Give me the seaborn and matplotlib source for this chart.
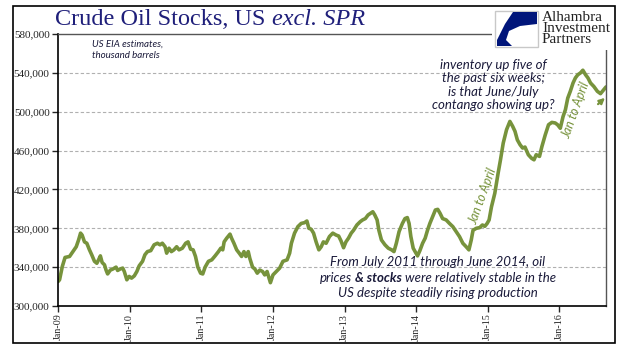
import numpy as np
import pandas as pd
import matplotlib
matplotlib.use("Agg")
import matplotlib.pyplot as plt
import matplotlib.dates as mdates
from matplotlib.patches import Rectangle, Polygon, FancyArrowPatch
import seaborn as sns

# weekly crude stocks (thousand barrels)
dates = [
    "2009-01-02", "2009-01-09", "2009-01-23", "2009-02-06", "2009-03-01", "2009-03-18",
    "2009-04-04", "2009-04-16", "2009-04-26", "2009-05-04", "2009-05-16", "2009-05-28",
    "2009-06-10", "2009-06-22", "2009-07-06", "2009-07-18", "2009-07-28", "2009-08-05",
    "2009-08-14", "2009-08-26", "2009-09-03", "2009-09-11", "2009-09-25", "2009-10-07",
    "2009-10-24", "2009-11-01", "2009-11-13", "2009-11-27", "2009-12-05", "2009-12-18",
    "2009-12-30", "2010-01-11", "2010-01-25", "2010-02-07", "2010-02-19", "2010-03-08",
    "2010-03-20", "2010-04-02", "2010-04-19", "2010-05-06", "2010-05-23", "2010-06-05",
    "2010-06-17", "2010-07-01", "2010-07-09", "2010-07-21", "2010-08-02", "2010-08-15",
    "2010-08-29", "2010-09-10", "2010-09-27", "2010-10-14", "2010-10-26", "2010-11-08",
    "2010-11-21", "2010-12-03", "2010-12-15", "2010-12-29",
    "2011-01-09", "2011-01-21", "2011-02-07", "2011-02-24", "2011-03-13", "2011-03-30",
    "2011-04-11", "2011-04-21", "2011-04-28", "2011-05-11", "2011-05-28", "2011-06-05",
    "2011-06-17", "2011-07-01", "2011-07-14", "2011-07-26", "2011-08-07", "2011-08-17",
    "2011-08-29", "2011-09-06", "2011-09-20", "2011-10-02", "2011-10-14", "2011-10-27",
    "2011-11-10", "2011-11-21", "2011-12-03", "2011-12-20", "2012-01-02", "2012-01-19",
    "2012-02-05", "2012-02-22", "2012-03-14", "2012-03-27", "2012-04-05", "2012-04-21",
    "2012-05-08", "2012-05-25", "2012-06-11", "2012-06-23", "2012-07-03", "2012-07-15",
    "2012-07-27", "2012-08-09", "2012-08-23", "2012-09-04", "2012-09-15", "2012-09-29",
    "2012-10-16", "2012-11-02", "2012-11-19", "2012-12-02", "2012-12-14", "2012-12-27",
    "2013-01-08", "2013-01-21", "2013-02-04", "2013-02-16", "2013-03-05", "2013-03-22",
    "2013-04-03", "2013-04-17", "2013-05-01", "2013-05-13", "2013-05-25", "2013-06-04",
    "2013-06-16", "2013-06-25", "2013-07-08", "2013-07-26", "2013-08-12", "2013-08-29",
    "2013-09-10", "2013-09-22", "2013-10-06", "2013-10-23", "2013-11-05", "2013-11-17",
    "2013-11-26", "2013-12-05", "2013-12-17", "2014-01-08", "2014-01-20", "2014-02-03",
    "2014-02-16", "2014-02-28", "2014-03-12", "2014-03-26", "2014-04-09", "2014-04-21",
    "2014-05-03", "2014-05-16", "2014-06-03", "2014-06-20", "2014-07-07", "2014-07-24",
    "2014-08-10", "2014-08-27", "2014-09-13", "2014-09-27", "2014-10-09", "2014-10-18",
    "2014-11-04", "2014-11-21", "2014-12-05", "2014-12-17", "2014-12-29",
    "2015-01-08", "2015-01-20", "2015-02-06", "2015-02-23", "2015-03-07", "2015-03-21",
    "2015-04-07", "2015-04-24", "2015-05-08", "2015-05-20", "2015-06-01", "2015-06-15",
    "2015-06-28", "2015-07-10", "2015-07-27", "2015-08-13", "2015-08-25", "2015-09-05",
    "2015-09-22", "2015-10-04", "2015-10-21", "2015-11-07", "2015-11-24", "2015-12-11",
    "2015-12-23", "2016-01-06", "2016-01-20", "2016-02-01", "2016-02-13", "2016-02-26",
    "2016-03-11", "2016-03-23", "2016-04-04", "2016-04-18", "2016-04-30", "2016-05-14",
    "2016-05-26", "2016-06-08", "2016-06-25", "2016-07-13", "2016-07-29", "2016-08-12",
    "2016-08-26",
]
stocks = [
    325300, 327000, 340700, 350000, 351000, 356000,
    361000, 368000, 375000, 373000, 366000, 364600,
    358000, 352700, 346000, 344000, 348000, 351600,
    344800, 342400, 337000, 333000, 337000, 338000,
    340000, 336600, 338000, 339000, 335500, 327000,
    330400, 328700, 331000, 335500, 341400, 346000,
    352700, 356000, 357000, 363000, 364600, 363000,
    364600, 361000, 354400, 359500, 356000, 357800,
    361000, 357800, 359500, 364600, 366000, 358500,
    357800, 351000, 340000, 333800,
    333000, 340000, 346000, 347500, 351600, 356000,
    359500, 357800, 366000, 369800, 374000, 369800,
    364600, 357800, 354400, 351000, 356000, 351000,
    356000, 349000, 340000, 338000, 333800, 337000,
    335500, 332000, 335500, 324000, 332000, 335500,
    339000, 346000, 347500, 354400, 364600, 375000,
    381700, 385000, 385800, 387500, 380000, 379000,
    375000, 366000, 357800, 361000, 366000, 364600,
    371500, 375000, 373000, 372000, 367000, 360000,
    366000, 369800, 375000, 378000, 383400, 386800,
    388600, 390000, 393700, 395400, 397000, 393700,
    388600, 378000, 368000, 363000, 359500, 357800,
    356000, 364600, 376600, 385000, 390000, 391000,
    385000, 371500, 359500, 351600, 357000, 364600,
    369800, 378000, 385000, 392000, 398800, 399500,
    395400, 390000, 388600, 385000, 381700, 376600,
    371500, 364600, 361000, 357800, 368000, 378000,
    380000, 380700, 383400, 382000, 385000,
    388600, 402000, 416000, 436800, 450500, 467700,
    481500, 490000, 485000, 479800, 471000, 466000,
    462600, 463600, 455700, 452000, 450500, 455700,
    454000, 464000, 476000, 486600, 489000, 488400,
    486600, 483000, 495000, 502000, 514000, 521000,
    529600, 534800, 538000, 540000, 542700, 538000,
    534800, 529600, 526000, 521000, 518600, 522000,
    525500,
]
year_ticks = ["2009", "2010", "2011", "2012", "2013", "2014", "2015", "2016"]
y_ticks = [300000, 340000, 380000, 420000, 460000, 500000, 540000, 580000]

df = pd.DataFrame({"date": pd.to_datetime(dates), "stocks": stocks})

sns.set_style("white")
plt.rcParams["font.family"] = ["Liberation Serif", "DejaVu Serif"]

W, H = 641, 361
fig = plt.figure(figsize=(W / 100, H / 100), dpi=100)
ax = fig.add_axes([58 / W, 1 - 306 / H, (606 - 58) / W, (306 - 34) / H])

def px(x, y):
    return (x / W, 1 - y / H)

green = "#77933C"
navy = "#1F1F7A"
ink = "#1a1a3a"
sans = ["Lato", "DejaVu Sans"]

sns.lineplot(data=df, x="date", y="stocks", ax=ax, color=green, linewidth=2.6)

ax.set_xlim(pd.Timestamp("2009-01-01"), pd.Timestamp("2016-08-26"))
ax.set_ylim(300000, 580000)
ax.set_yticks(y_ticks)
ax.set_yticklabels([f"{v:,}" for v in y_ticks])
ax.set_xticks([pd.Timestamp(y + "-01-01") for y in year_ticks])
ax.xaxis.set_major_formatter(mdates.DateFormatter("%b-%y"))
ax.tick_params(axis="x", rotation=90, labelsize=7.2, length=4, width=1, direction="out",
               bottom=True, pad=1.5)
ax.tick_params(axis="y", labelsize=8, length=4, width=1, direction="out", left=True, pad=2)
ax.set_xlabel("")
ax.set_ylabel("")
for v in y_ticks[1:-1]:
    ax.axhline(v, color="#b0b0b0", lw=0.8, ls=(0, (3, 2)), zorder=0)
for s in ["left", "bottom"]:
    ax.spines[s].set_color("black")
    ax.spines[s].set_linewidth(1.2)
for s in ["top", "right"]:
    ax.spines[s].set_color("#555555")
    ax.spines[s].set_linewidth(1.0)

# title
t1 = fig.text(*px(55, 25), "Crude Oil Stocks, US ", fontsize=17.5, color=navy, va="baseline")
fig.canvas.draw()
bb = t1.get_window_extent()
fig.text(bb.x1 / W, 1 - 25 / H, "excl. SPR", fontsize=17.5, color=navy, style="italic",
         va="baseline")

# logo block covering the top-right corner
fig.patches.append(Rectangle(px(492, 50), 122 / W, 43 / H, transform=fig.transFigure,
                             facecolor="white", edgecolor="none", zorder=3))
fig.patches.append(Rectangle(px(495, 47), 43 / W, 36 / H, transform=fig.transFigure,
                             facecolor="white", edgecolor="#c8c8c8", lw=1, zorder=4))
logo = [(537, 12), (513, 12), (505, 24), (497, 40), (497, 46), (512, 46),
        (506, 40), (509, 31), (520, 26), (537, 24)]
fig.patches.append(Polygon([px(*p) for p in logo], closed=True, transform=fig.transFigure,
                           facecolor="#00157A", edgecolor="none", zorder=5))
fig.text(*px(542, 28.5), "Alhambra\nInvestment\nPartners", fontsize=11, color="#222222",
         va="center", ha="left", linespacing=0.83, zorder=6)

# outer frame
fig.patches.append(Rectangle(px(13, 343), (615 - 13) / W, (343 - 6) / H,
                             transform=fig.transFigure, fill=False, edgecolor="black",
                             lw=1.2, zorder=10))

# notes
fig.text(*px(92, 50), "US EIA estimates,\nthousand barrels", fontsize=7, style="italic",
         family=sans, color=ink, va="center", ha="left", linespacing=1.3)
fig.text(*px(493, 85), "inventory up five of\nthe past six weeks;\nis that June/July\ncontango showing up?",
         fontsize=9.5, style="italic", family=sans, color=ink, va="center",
         ha="center", linespacing=1.12)

fig.text(*px(438, 262), "From July 2011 through June 2014, oil", fontsize=9.5,
         style="italic", family=sans, color=ink, va="center", ha="center")
fig.text(*px(438, 293), "US despite steadily rising production", fontsize=9.5,
         style="italic", family=sans, color=ink, va="center", ha="center")
parts = [("prices", "normal"), ("& stocks", "bold"), ("were relatively stable in the", "normal")]
objs = [fig.text(0, 1 - 278 / H, s, fontsize=9.5, style="italic", weight=w, family=sans,
                 color=ink, va="center", ha="left") for s, w in parts]
fig.canvas.draw()
r = fig.canvas.get_renderer()
widths = [o.get_window_extent(r).width for o in objs]
gap = 3.5
x0 = 438 - (sum(widths) + gap * 2) / 2
for o, wd in zip(objs, widths):
    o.set_x(x0 / W)
    x0 += wd + gap

# Jan to April labels
fig.text(*px(483, 196), "Jan to April", fontsize=9, style="italic", family=sans,
         color=green, rotation=70, ha="center", va="center")
fig.text(*px(576, 110), "Jan to April", fontsize=9, style="italic", family=sans,
         color=green, rotation=70, ha="center", va="center")
fig.patches.append(FancyArrowPatch(px(596, 106), px(607, 96), transform=fig.transFigure,
                                   arrowstyle="-|>", color=green, lw=1.6,
                                   mutation_scale=8, zorder=7))

fig.savefig("out.png", dpi=100)
